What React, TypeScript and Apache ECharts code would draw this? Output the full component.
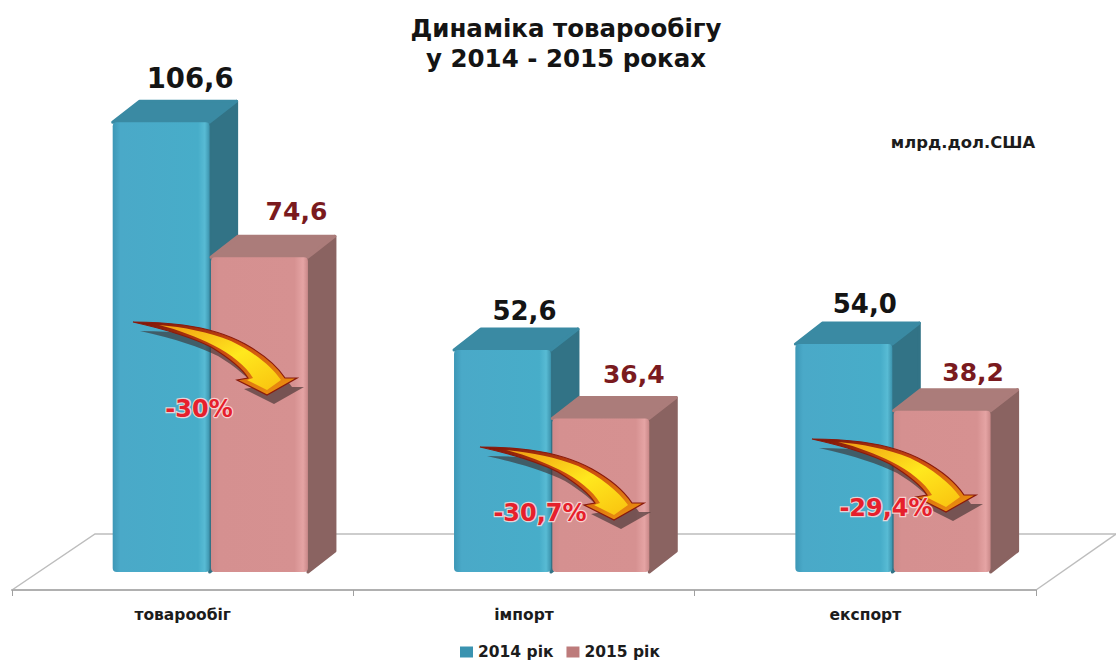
import React, { useEffect, useRef } from "react";
import * as echarts from "echarts";

const categories = ["товарообіг", "імпорт", "експорт"];
const values2014 = [106.6, 52.6, 54.0];
const values2015 = [74.6, 36.4, 38.2];
const changes = ["-30%", "-30,7%", "-29,4%"];

const FONT = "'DejaVu Sans', sans-serif";
const DX = 27;
const DY = 21;

const ARROW =
  "M0 0 C18 0 34 1 50 3 C72 6 94 12 112 22 C130 32 144 44 152 56 L164 56 L134 73 L104 58 L115 56 C110 48 96 36 78 25 C60 16 36 8 0 0 Z";
const ARROW_CORE =
  "M26 3 C50 5 76 10 98 19 C121 30 138 44 148 58 L134 68 L114 58 L120 56 C113 44 98 32 80 23 C64 15 46 8 26 3 Z";
echarts.graphic.registerShape("fallArrow", echarts.graphic.extendPath(ARROW, {}) as any);
echarts.graphic.registerShape("fallArrowCore", echarts.graphic.extendPath(ARROW_CORE, {}) as any);

type Look = {
  front: any;
  top: string;
  side: string;
  label: string;
  labelSize: number[];
  start: number;
  nudgeX: number[];
  nudgeY: number[];
};

const blueLook: Look = {
  front: new echarts.graphic.LinearGradient(0, 0, 1, 0, [
    { offset: 0, color: "#3d97b6" },
    { offset: 0.08, color: "#4aa9c8" },
    { offset: 0.88, color: "#47adc9" },
    { offset: 0.95, color: "#58bbd4" },
    { offset: 1, color: "#3c93ad" },
  ]),
  top: "#3a8aa3",
  side: "#327386",
  label: "#141414",
  labelSize: [27.5, 26, 26],
  start: -0.205,
  nudgeX: [2, -5, -6],
  nudgeY: [-44, -39, -40],
};
const pinkLook: Look = {
  front: new echarts.graphic.LinearGradient(0, 0, 1, 0, [
    { offset: 0, color: "#cf8a8a" },
    { offset: 0.08, color: "#d59090" },
    { offset: 0.86, color: "#d69191" },
    { offset: 0.95, color: "#e5a4a4" },
    { offset: 1, color: "#c98888" },
  ]),
  top: "#ab7c7a",
  side: "#8a6361",
  label: "#7a1a1e",
  labelSize: [25, 25, 25],
  start: 0.083,
  nudgeX: [10, 6, 4],
  nudgeY: [-46, -44, -38],
};

function bar3d(look: Look) {
  return (params: any, api: any) => {
    const i = api.value(0);
    const v = api.value(1);
    const band = api.size([1, 0])[0];
    const [cx, yTop] = api.coord([i, v]);
    const [, yBase] = api.coord([i, 0]);
    const w = band * 0.284;
    const x = cx + band * look.start;
    const faceStyle = (c: string) => ({ fill: c, stroke: c, lineWidth: 3, lineJoin: "round" });
    return {
      type: "group",
      children: [
        {
          type: "polygon",
          shape: {
            points: [
              [x + w, yBase],
              [x + w + DX, yBase - DY],
              [x + w + DX, yTop - DY],
              [x + w, yTop],
            ],
          },
          style: faceStyle(look.side),
        },
        {
          type: "polygon",
          shape: {
            points: [
              [x, yTop],
              [x + DX, yTop - DY],
              [x + w + DX, yTop - DY],
              [x + w, yTop],
            ],
          },
          style: faceStyle(look.top),
        },
        {
          type: "rect",
          shape: { x, y: yTop, width: w, height: yBase - yTop, r: 4 },
          style: { fill: look.front },
        },
        {
          type: "text",
          style: {
            text: v.toFixed(1).replace(".", ","),
            x: x + w / 2 + DX + look.nudgeX[i],
            y: yTop + look.nudgeY[i],
            align: "center",
            verticalAlign: "middle",
            fill: look.label,
            fontFamily: FONT,
            fontWeight: 700,
            fontSize: look.labelSize[i],
          },
        },
      ],
    };
  };
}

const arrowFill = new echarts.graphic.LinearGradient(0, 0, 1, 1, [
  { offset: 0, color: "#7a1208" },
  { offset: 0.45, color: "#c9480f" },
  { offset: 1, color: "#ef9a10" },
]);
const coreFill = new echarts.graphic.LinearGradient(0, 0, 1, 1, [
  { offset: 0, color: "#f09a12" },
  { offset: 0.55, color: "#ffe81e" },
  { offset: 1, color: "#f9c20f" },
]);

const arrowTails = [
  [133, 322],
  [480, 447],
  [812, 439],
];
const changeCenters = [
  [199, 409],
  [540, 513],
  [886, 508],
];

function arrowGraphics() {
  const out: any[] = [];
  arrowTails.forEach(([x, y], i) => {
    out.push({
      type: "fallArrow",
      x: x + 7,
      y: y + 9,
      z: 50,
      style: { fill: "rgba(60,45,45,0.62)" },
    });
    out.push({
      type: "fallArrow",
      x,
      y,
      z: 51,
      style: { fill: arrowFill, stroke: "#8a1a0c", lineWidth: 1.2 },
    });
    out.push({ type: "fallArrowCore", x, y, z: 52, style: { fill: coreFill } });
    out.push({
      type: "text",
      x: changeCenters[i][0],
      y: changeCenters[i][1],
      z: 60,
      style: {
        text: changes[i],
        align: "center",
        verticalAlign: "middle",
        fill: "#e61f2c",
        stroke: "rgba(255,220,220,0.85)",
        lineWidth: 2.5,
        fontFamily: FONT,
        fontWeight: 700,
        fontSize: 24,
      },
    });
  });
  return out;
}

const lineStyle = { stroke: "#bdbdbd", lineWidth: 1.5, fill: "none" };

export default function App() {
  const ref = useRef<HTMLDivElement>(null);
  useEffect(() => {
    const chart = echarts.init(ref.current!, null, { renderer: "svg" });
    chart.setOption({
      animation: false,
      backgroundColor: "#ffffff",
      title: {
        text: "Динаміка товарообігу\nу 2014 - 2015 роках",
        left: 561,
        top: 8,
        textAlign: "center",
        textStyle: {
          fontFamily: FONT,
          fontWeight: 700,
          fontSize: 24.5,
          lineHeight: 30,
          color: "#141414",
        },
      },
      legend: {
        left: 455,
        top: 639,
        itemWidth: 13,
        itemHeight: 11,
        itemGap: 13,
        icon: "rect",
        textStyle: {
          fontFamily: FONT,
          fontWeight: 700,
          fontSize: 15.5,
          color: "#1c1c1c",
        },
        data: ["2014 рік", "2015 рік"],
      },
      grid: { left: 12, right: 80, top: 65.6, bottom: 92 },
      xAxis: {
        type: "category",
        data: categories,
        offset: 18,
        axisLine: { onZero: false, lineStyle: { color: "#b0b0b0", width: 2 } },
        axisTick: { show: true, length: 6, lineStyle: { color: "#a0a0a0", width: 1 } },
        axisLabel: {
          margin: 17,
          fontFamily: FONT,
          fontWeight: 700,
          fontSize: 15.5,
          color: "#1c1c1c",
        },
      },
      yAxis: { type: "value", min: 0, max: 120, show: false },
      series: [
        {
          name: "2014 рік",
          type: "custom",
          clip: false,
          z: 5,
          itemStyle: { color: "#3a93b0" },
          encode: { x: 0, y: 1 },
          data: values2014.map((v, i) => [i, v]),
          renderItem: bar3d(blueLook),
        },
        {
          name: "2015 рік",
          type: "custom",
          clip: false,
          z: 6,
          itemStyle: { color: "#bd7b7b" },
          encode: { x: 0, y: 1 },
          data: values2015.map((v, i) => [i, v]),
          renderItem: bar3d(pinkLook),
        },
      ],
      graphic: [
        {
          type: "group",
          z: 0,
          children: [
            {
              type: "polyline",
              z: 0,
              shape: {
                points: [
                  [12, 590],
                  [95, 534],
                  [1116, 534],
                ],
              },
              style: lineStyle,
            },
            {
              type: "line",
              z: 0,
              shape: { x1: 1036, y1: 590, x2: 1116, y2: 534 },
              style: lineStyle,
            },
          ],
        },
        ...arrowGraphics(),
        {
          type: "text",
          x: 963,
          y: 142,
          z: 60,
          style: {
            text: "млрд.дол.США",
            align: "center",
            verticalAlign: "middle",
            fill: "#1c1c1c",
            fontFamily: FONT,
            fontWeight: 700,
            fontSize: 16.4,
          },
        },
      ],
    });
    return () => chart.dispose();
  }, []);
  return (
    <div
      ref={ref}
      style={{ position: "absolute", left: 0, top: 0, width: 1116, height: 664 }}
    />
  );
}
